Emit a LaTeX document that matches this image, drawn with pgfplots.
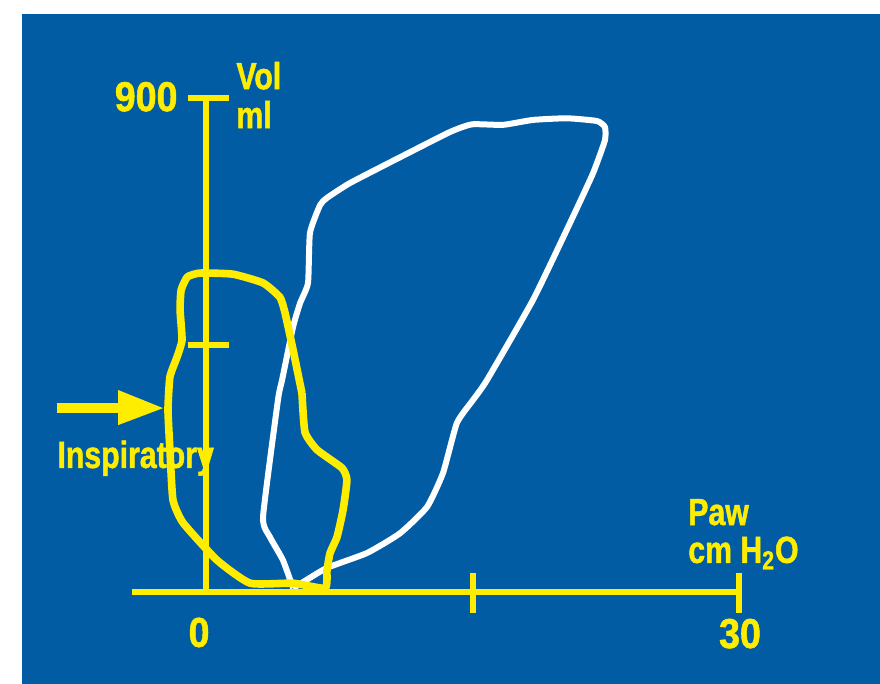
\documentclass[border=0pt]{standalone}
\usepackage{fontspec}
\usepackage{pgfplots}
\pgfplotsset{compat=1.18}
\newfontfamily\lab{Liberation Sans}[UprightFont={* Bold}, FakeStretch=0.80, FakeBold=1.3]
\newfontfamily\num{Liberation Sans}[UprightFont={* Bold}, FakeStretch=0.90, FakeBold=1.3]
\definecolor{bgblue}{RGB}{2,92,164}
\definecolor{ylw}{RGB}{255,237,0}
\begin{document}
\begin{tikzpicture}
\begin{axis}[
  width=440pt, height=342pt, scale only axis,
  xmin=-11.593, xmax=37.929, ymin=-167.6, ymax=1078.5,
  hide axis, clip=false,
]
% background
\fill[white] (axis cs:-11.593,-167.6) rectangle (axis cs:37.929,1078.5);
\fill[bgblue] (axis cs:-10.35,-167.6) rectangle (axis cs:37.929,1053);

% white loop
\addplot[white, line width=3pt, line join=round, smooth, tension=0.3] coordinates {
(4.90,7) (5.46,18) (6.81,44) (9.06,71) (10.92,107) (12.44,155) (13.34,217)
(14.12,308) (15.03,350) (15.81,386) (18.40,532) (20.48,672) (21.78,763)
(22.45,823) (22.45,847) (22.00,858) (20.32,863) (18.40,860) (16.71,851)
(14.97,852) (13.73,838) (10.92,792) (8.10,745) (6.81,718) (6.42,705)
(5.85,654) (5.74,563) (5.29,526) (4.90,483) (4.28,386) (4.05,350)
(3.21,137) (3.60,100) (4.33,58) (4.90,7)
};

% axes
\addplot[ylw, line width=3pt] coordinates {(-4.16,0) (30,0)};
\addplot[ylw, line width=3pt] coordinates {(0,0) (0,900)};
\addplot[ylw, line width=3pt] coordinates {(-1.01,900) (1.29,900)};
\addplot[ylw, line width=3pt] coordinates {(-1.01,450) (1.29,450)};
\addplot[ylw, line width=3pt] coordinates {(15,34.6) (15,-38.3)};
\addplot[ylw, line width=3pt] coordinates {(30,34.6) (30,-38.3)};

% yellow loop
\addplot[ylw, line width=3.8pt, line join=round, smooth, tension=0.3] coordinates {
(5.40,362) (5.57,291) (6.25,259) (7.65,226)
(7.93,204) (7.71,149) (7.37,100) (6.98,71) (6.81,40) (6.70,7)
(4.90,16) (2.48,16) (0.62,58) (-1.29,126) (-1.86,168) (-2.03,259)
(-2.14,332) (-2.03,392) (-1.63,428) (-1.35,459) (-1.46,514) (-1.40,550)
(-1.05,574) (-0.34,581) (1.52,579) (3.21,563) (4.16,537)
(4.45,508) (4.90,441) (5.40,362)
};

% arrow
\fill[ylw] (axis cs:-8.38,326) rectangle (axis cs:-4.95,344.3);
\fill[ylw] (axis cs:-4.95,368) -- (axis cs:-2.42,335) -- (axis cs:-4.95,304) -- cycle;

% labels
\node[anchor=base east, text=ylw, inner sep=0pt] at (axis cs:-1.58,876) {\num\fontsize{20.9}{21}\selectfont 900};
\node[anchor=base, text=ylw, inner sep=0pt] at (axis cs:-0.39,-100) {\num\fontsize{20.9}{21}\selectfont 0};
\node[anchor=base, text=ylw, inner sep=0pt] at (axis cs:30.05,-102) {\num\fontsize{20.9}{21}\selectfont 30};
\node[anchor=base west, text=ylw, inner sep=0pt] at (axis cs:1.69,916) {\lab\fontsize{18.9}{19}\selectfont Vol};
\node[anchor=base west, text=ylw, inner sep=0pt] at (axis cs:1.69,845) {\lab\fontsize{18.9}{19}\selectfont ml};
\node[anchor=base west, text=ylw, inner sep=0pt] at (axis cs:-8.38,226) {\lab\fontsize{18.9}{19}\selectfont Inspiratory};
\node[anchor=base west, text=ylw, inner sep=0pt] at (axis cs:27.12,122) {\lab\fontsize{18.9}{19}\selectfont Paw};
\node[anchor=base west, text=ylw, inner sep=0pt] at (axis cs:27.12,53) {\lab\fontsize{18.9}{19}\selectfont cm H\textsubscript{2}O};
\end{axis}
\end{tikzpicture}
\end{document}
